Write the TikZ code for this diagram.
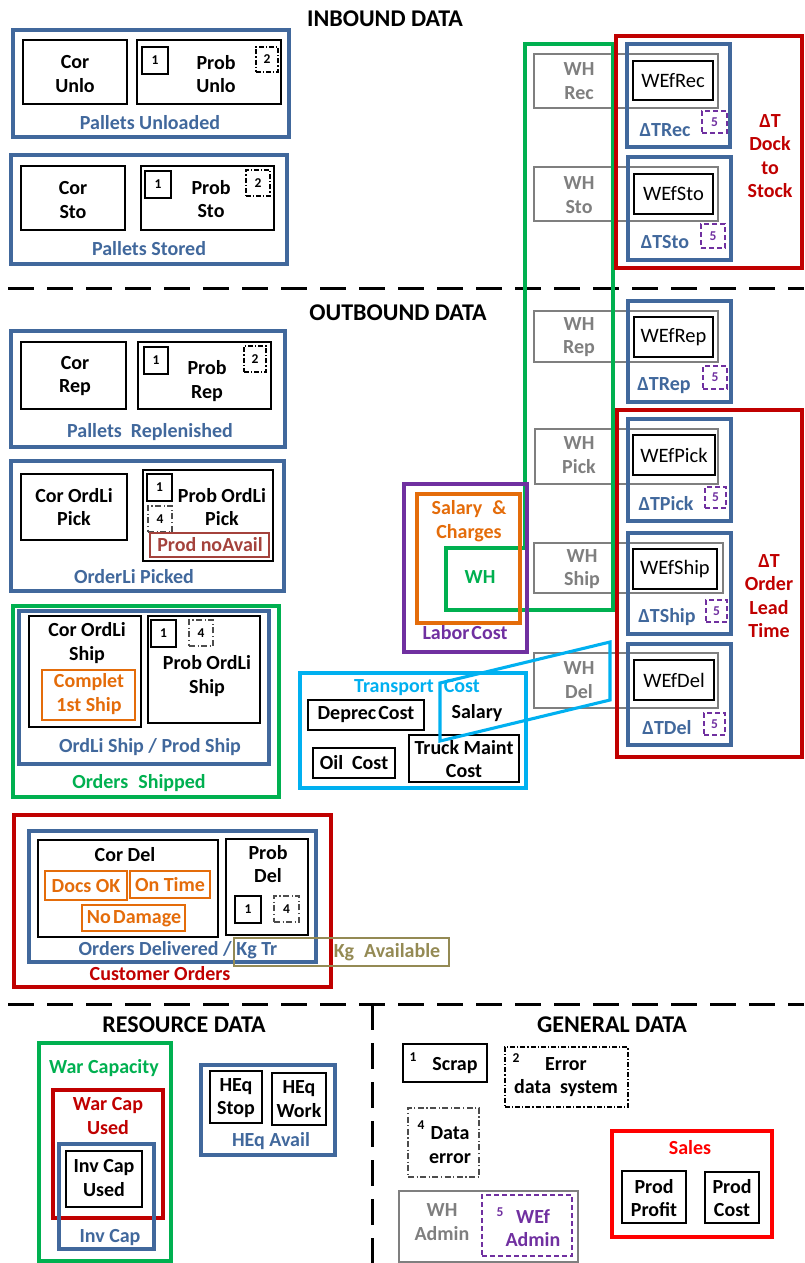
\documentclass[tikz,border=0pt]{standalone}
\usepackage{fontspec}
\setmainfont{Carlito}
\definecolor{cblue}{HTML}{41689C}
\definecolor{cgreen}{HTML}{00B050}
\definecolor{cred}{HTML}{C00000}
\definecolor{corange}{HTML}{E46C0A}
\definecolor{cpurple}{HTML}{7030A0}
\definecolor{ccyan}{HTML}{00B0F0}
\definecolor{cgrey}{HTML}{7F7F7F}
\definecolor{cbrown}{HTML}{A4423C}
\definecolor{colive}{HTML}{948A54}
\definecolor{csales}{HTML}{FF0000}
% box from corner (x1,y1) to (x2,y2), y measured downwards
\newcommand\rbox[7]{\node[#1,anchor=north west,minimum width={#5-#3},minimum height={#6-#4}] (#2) at (#3,#4) {#7};}
\begin{document}
\begin{tikzpicture}[x=1pt,y=-1pt,
  every node/.style={inner sep=0pt,outer sep=0pt},
  frame/.style={draw,line width=3.1pt},
  blueframe/.style={frame,draw=cblue},
  redframe/.style={frame,draw=cred},
  greenframe/.style={frame,draw=cgreen},
  thinbox/.style={draw=black,line width=1.4pt},
  whbox/.style={draw=cgrey,line width=1.6pt},
  colbox/.style={line width=1.4pt},
  tagone/.style={draw=black,line width=1.9pt,font=\fontsize{13.5}{15}\selectfont\bfseries},
  tagtwo/.style={draw=black,line width=1.2pt,dash pattern=on 5pt off 2pt on 1.2pt off 2pt,font=\fontsize{13.5}{15}\selectfont\bfseries},
  tagfour/.style={draw=black!70,line width=1.1pt,dash pattern=on 6pt off 2.5pt on 1.2pt off 2.5pt,font=\fontsize{13.5}{15}\selectfont\bfseries},
  tagfive/.style={draw=cpurple,line width=1.1pt,dash pattern=on 5pt off 3pt,text=cpurple,font=\fontsize{13.5}{15}\selectfont\bfseries},
  txt/.style={font=\fontsize{20}{23.5}\selectfont\bfseries,align=center},
  reg/.style={font=\fontsize{20.5}{23.5}\selectfont},
  num/.style={font=\fontsize{13.5}{15}\selectfont\bfseries},
  head/.style={font=\fontsize{24}{28}\selectfont\bfseries},
  sep/.style={line width=3pt,dash pattern=on 26pt off 13pt}]
\useasboundingbox (0,0) rectangle (804,1263);

% ---------- section separators and headings ----------
\coordinate (sepAw) at (8,288);  \coordinate (sepAe) at (804,288);
\coordinate (sepBw) at (8,1004); \coordinate (sepBe) at (804,1004);
\coordinate (sepCs) at (372,1263);
\draw[sep] (sepAw) -- (sepAe);
\draw[sep] (sepBw) -- (sepBe);
\draw[sep] (372,1004) -- (sepCs);
\node[head] (hin)  at (385,19)   {INBOUND DATA};
\node[head] (hout) at (398,313)  {OUTBOUND DATA};
\node[head] (hres) at (184,1025) {RESOURCE DATA};
\node[head] (hgen) at (612,1025) {GENERAL DATA};

% ---------- inbound: pallets ----------
\rbox{blueframe}{fUnlo}{13}{30}{289}{137}{}
\rbox{thinbox}{bCorUnlo}{23}{40}{127}{104}{}
\rbox{thinbox}{bProbUnlo}{137}{40}{281}{104}{}
\rbox{tagone}{gUnloA}{142}{47}{168}{74}{1}
\rbox{tagtwo}{gUnloB}{256}{47}{278}{72}{2}
\node[txt] (tCorUnlo) at (75,74) {Cor\\Unlo};
\node[txt] (tProbUnlo) at (216,74) {Prob\\Unlo};
\node[txt,text=cblue] (tUnlo) at (150,123) {Pallets Unloaded};

\rbox{blueframe}{fSto}{11}{155}{287}{264}{}
\rbox{thinbox}{bCorSto}{21}{166}{125}{230}{}
\rbox{thinbox}{bProbSto}{141}{166}{274}{230}{}
\rbox{tagone}{gStoA}{145}{171}{171}{198}{1}
\rbox{tagtwo}{gStoB}{246}{170}{270}{196}{2}
\node[txt] (tCorSto) at (73,200) {Cor\\Sto};
\node[txt] (tProbSto) at (211,199) {Prob\\Sto};
\node[txt,text=cblue] (tSto) at (149,249) {Pallets Stored};

% ---------- outbound: replenish / pick ----------
\rbox{blueframe}{fRep}{11}{331}{285}{447}{}
\rbox{thinbox}{bCorRep}{21}{342}{126}{409}{}
\rbox{thinbox}{bProbRep}{138}{342}{271}{409}{}
\rbox{tagone}{gRepA}{144}{347}{168}{374}{1}
\rbox{tagtwo}{gRepB}{244}{346}{266}{372}{2}
\node[txt] (tCorRep) at (75,376) {Cor\\Rep};
\node[txt] (tProbRep) at (207,381) {Prob\\Rep};
\node[txt,text=cblue] (tRep) at (150,432) {Pallets\hspace{0.45em}Replenished};

\rbox{blueframe}{fPick}{11}{461}{284}{591}{}
\rbox{thinbox}{bCorPick}{21}{474}{127}{540}{}
\rbox{thinbox}{bProbPick}{143}{470}{273}{561}{}
\rbox{tagone}{gPickA}{147}{474}{172}{501}{1}
\rbox{tagfour}{gPickD}{148}{506}{172}{532}{4}
\rbox{colbox,draw=cbrown}{bNoAvail}{150}{533}{269}{557}{}
\node[txt] (tCorPick) at (74,507) {Cor OrdLi\\Pick};
\node[txt] (tProbPick) at (222,507) {Prob OrdLi\\Pick};
\node[txt,text=cbrown] (tNoAvail) at (210,545) {Prod noAvail};
\node[txt,text=cblue] (tPick) at (134,577) {OrderLi Picked};

% ---------- outbound: shipped ----------
\rbox{greenframe}{fShipped}{13}{606}{279}{797}{}
\rbox{blueframe}{fShip}{19}{611}{269}{764}{}
\rbox{thinbox}{bCorShip}{29}{616}{141}{727}{}
\rbox{colbox,draw=corange}{bComplet}{42}{670}{135}{720}{}
\rbox{thinbox}{bProbShip}{148}{616}{260}{723}{}
\rbox{tagone}{gShipA}{151}{620}{176}{647}{1}
\rbox{tagfour}{gShipD}{189}{620}{213}{646}{4}
\node[txt] (tCorShip) at (87,643) {Cor OrdLi\\Ship};
\node[txt,text=corange] (tComplet) at (89,694) {Complet\\1st Ship};
\node[txt] (tProbShip) at (207,676) {Prob OrdLi\\Ship};
\node[txt,text=cblue] (tShip) at (150,747) {OrdLi Ship / Prod Ship};
\node[txt,text=cgreen] (tShipped) at (139,783) {Orders\hspace{0.5em}Shipped};

% ---------- outbound: delivered ----------
\rbox{redframe}{fCust}{14}{815}{331}{987}{}
\rbox{blueframe}{fDel}{29}{831}{316}{962}{}
\rbox{thinbox}{bCorDel}{38}{840}{218}{937}{}
\rbox{colbox,draw=corange}{bDocs}{45}{871}{127}{900}{}
\rbox{colbox,draw=corange}{bTime}{130}{871}{210}{898}{}
\rbox{colbox,draw=corange}{bDamage}{82}{905}{185}{931}{}
\rbox{thinbox}{bProbDel}{226}{839}{308}{935}{}
\rbox{tagone}{gDelA}{235}{896}{261}{923}{1}
\rbox{tagfour}{gDelD}{274}{896}{299}{922}{4}
\rbox{colbox,line width=2.8pt,draw=colive}{bKg}{234}{938}{449}{966}{}
\node[txt] (tCorDel) at (125,855) {Cor Del};
\node[txt,text=corange] (tDocs) at (86,886) {Docs OK};
\node[txt,text=corange] (tTime) at (170,885) {On Time};
\node[txt,text=corange] (tDamage) at (134,919) {No\hspace{0.12em}Damage};
\node[txt] (tProbDel) at (268,864) {Prob\\Del};
\node[txt,text=cblue] (tDel) at (178,950) {Orders Delivered / Kg Tr};
\node[txt,text=cred] (tCust) at (160,974) {Customer Orders};
\node[txt,text=colive] (tKg) at (387,952) {Kg\hspace{0.5em}Available};

% ---------- warehouse activity column ----------
\rbox{whbox}{wRec}{534}{54}{718}{108}{}
\rbox{whbox}{wSto}{534}{167}{718}{221}{}
\rbox{whbox}{wRep}{534}{311}{718}{362}{}
\rbox{whbox}{wPick}{535}{429}{718}{484}{}
\rbox{whbox}{wShip}{534}{543}{723}{593}{}
\rbox{whbox}{wDel}{534}{653}{718}{708}{}
\node[txt,text=cgrey] (tWRec) at (579,81) {WH\\Rec};
\node[txt,text=cgrey] (tWSto) at (579,195) {WH\\Sto};
\node[txt,text=cgrey] (tWRep) at (579,337) {WH\\Rep};
\node[txt,text=cgrey] (tWPick) at (579,455) {WH\\Pick};
\node[txt,text=cgrey] (tWShip) at (582,569) {WH\\Ship};
\node[txt,text=cgrey] (tWDel) at (579,680) {WH\\Del};

% warehouse labour area (L-shaped green outline)
\draw[line width=3.1pt,draw=cgreen] (525,44) -- (613,44) -- (613,610) -- (446,610) -- (446,548) -- (525,548) -- cycle;

% labour cost
\rbox{frame,draw=cpurple}{fLabor}{404}{484}{527}{652}{}
\rbox{frame,draw=corange}{fSalary}{417}{494}{520}{623}{}
\node[txt,text=corange] (tSalary) at (469,521) {Salary\hspace{0.5em}\&\\Charges};
\node[txt,text=cgreen] (tWH) at (480,577) {WH};
\node[txt,text=cpurple] (tLabor) at (465,633) {Labor\hspace{0.1em}Cost};

% transport cost
\rbox{frame,draw=ccyan}{fTrans}{300}{673}{526}{788}{}
\rbox{thinbox}{bDeprec}{308}{700}{424}{730}{}
\rbox{thinbox}{bOil}{313}{748}{395}{778}{}
\rbox{thinbox}{bTruck}{409}{735}{519}{782}{}
\draw[line width=3.1pt,draw=ccyan] (440,683) -- (610,642) -- (610,700) -- (440,741) -- cycle;
\node[txt,text=ccyan] (tTrans) at (417,688) {Transport\hspace{0.5em}Cost};
\node[txt] (tDeprec) at (366,715) {Deprec\hspace{0.1em}Cost};
\node[txt] (tOil) at (354,763) {Oil\hspace{0.45em}Cost};
\node[txt] (tTruck) at (464,759) {Truck Maint\\Cost};
\node[txt] (tSal) at (477,713) {Salary};

% ---------- lead-time frames ----------
\rbox{redframe}{fDock}{616}{36}{802}{268}{}
\rbox{redframe}{fLead}{617}{410}{802}{757}{}
\node[txt,text=cred] (tDock) at (770,156) {ΔT\\Dock\\to\\Stock};
\node[txt,text=cred] (tLead) at (769,596) {ΔT\\Order\\Lead\\Time};

\rbox{blueframe}{dRec}{627}{44}{730}{147}{}
\rbox{blueframe}{dSto}{628}{157}{731}{260}{}
\rbox{blueframe}{dRep}{628}{301}{731}{402}{}
\rbox{blueframe}{dPick}{628}{419}{731}{521}{}
\rbox{blueframe}{dShip}{628}{533}{731}{634}{}
\rbox{blueframe}{dDel}{628}{644}{731}{745}{}

\rbox{thinbox,reg}{eRec}{633}{61}{713}{100}{WEfRec}
\rbox{thinbox,reg}{eSto}{634}{174}{713}{214}{WEfSto}
\rbox{thinbox,reg}{eRep}{634}{317}{713}{357}{WEfRep}
\rbox{thinbox,reg}{ePick}{633}{435}{715}{475}{WEfPick}
\rbox{thinbox,reg}{eShip}{633}{549}{717}{589}{WEfShip}
\rbox{thinbox,reg}{eDel}{634}{660}{714}{700}{WEfDel}

\rbox{tagfive}{vRec}{702}{111}{727}{133}{5}
\rbox{tagfive}{vSto}{701}{224}{725}{248}{5}
\rbox{tagfive}{vRep}{703}{366}{727}{389}{5}
\rbox{tagfive}{vPick}{705}{487}{726}{508}{5}
\rbox{tagfive}{vShip}{706}{600}{727}{622}{5}
\rbox{tagfive}{vDel}{704}{713}{725}{735}{5}

\node[txt,text=cblue] (tdRec) at (665,130) {ΔTRec};
\node[txt,text=cblue] (tdSto) at (665,242) {ΔTSto};
\node[txt,text=cblue] (tdRep) at (664,386) {ΔTRep};
\node[txt,text=cblue] (tdPick) at (666,504) {ΔTPick};
\node[txt,text=cblue] (tdShip) at (667,617) {ΔTShip};
\node[txt,text=cblue] (tdDel) at (667,728) {ΔTDel};

% ---------- resource data ----------
\rbox{frame,draw=cgreen}{fWarCap}{39}{1043}{171}{1261}{}
\rbox{redframe}{fWarUsed}{53}{1090}{163}{1218}{}
\rbox{blueframe}{fInvCap}{59}{1144}{154}{1249}{}
\rbox{thinbox}{bInvUsed}{66}{1151}{142}{1207}{}
\node[txt,text=cgreen] (tWarCap) at (104,1068) {War Capacity};
\node[txt,text=cred] (tWarUsed) at (108,1116) {War Cap\\Used};
\node[txt] (tInvUsed) at (104,1178) {Inv Cap\\Used};
\node[txt,text=cblue] (tInvCap) at (110,1237) {Inv Cap};

\rbox{blueframe}{fHEq}{201}{1065}{335}{1155}{}
\rbox{thinbox}{bStop}{210}{1071}{262}{1123}{}
\rbox{thinbox}{bWork}{272}{1073}{326}{1125}{}
\node[txt] (tStop) at (236,1098) {HEq\\Stop};
\node[txt] (tWork) at (299,1099) {HEq\\Work};
\node[txt,text=cblue] (tHEq) at (271,1141) {HEq Avail};

% ---------- general data (legend) ----------
\rbox{tagone}{lScrap}{403}{1044}{487}{1082}{}
\node[num] (nScrap) at (413,1057) {1};
\node[txt] (tScrap) at (455,1066) {Scrap};

\rbox{tagtwo}{lError}{505}{1047}{628}{1107}{}
\node[num] (nError) at (516,1058) {2};
\node[txt] (tError) at (566,1077) {Error\\data\hspace{0.45em}system};

\rbox{tagfour}{lData}{408}{1108}{479}{1177}{}
\node[num] (nData) at (421,1125) {4};
\node[txt] (tData) at (450,1145) {Data\\error};

\rbox{whbox}{lAdmin}{399}{1191}{578}{1262}{}
\rbox{tagfive}{lWEf}{482}{1195}{572}{1256}{}
\node[txt,text=cgrey] (tAdmin) at (442,1222) {WH\\Admin};
\node[num,text=cpurple] (nWEf) at (500,1212) {5};
\node[txt,text=cpurple] (tWEf) at (533,1228) {WEf\\Admin};

\rbox{frame,draw=csales}{fSales}{612}{1131}{772}{1237}{}
\rbox{thinbox}{bProfit}{622}{1171}{686}{1223}{}
\rbox{thinbox}{bCost}{705}{1172}{759}{1223}{}
\node[txt,text=csales] (tSales) at (690,1148) {Sales};
\node[txt] (tProfit) at (654,1198) {Prod\\Profit};
\node[txt] (tCost) at (732,1198) {Prod\\Cost};
\end{tikzpicture}
\end{document}
